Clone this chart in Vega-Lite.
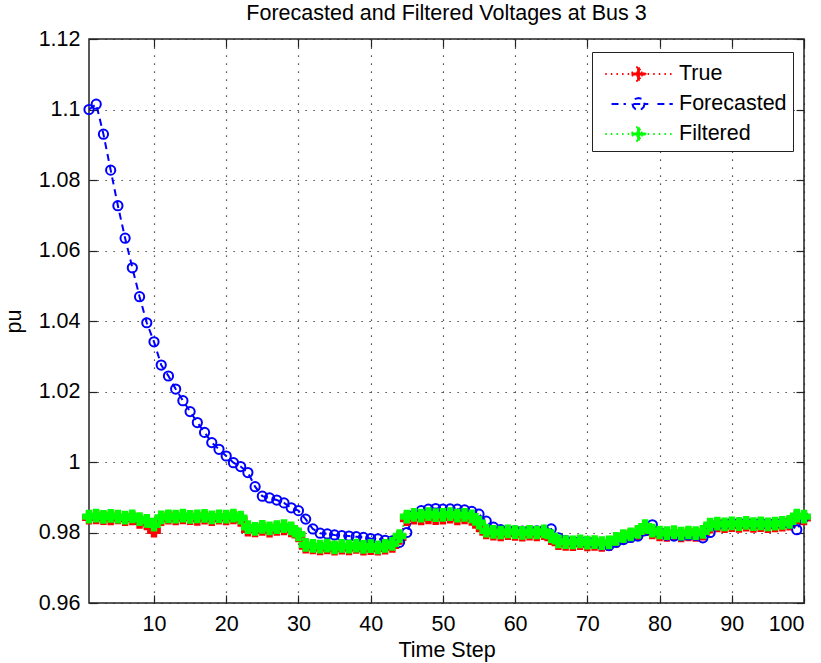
{
  "$schema": "https://vega.github.io/schema/vega-lite/v6.json",
  "width": 715,
  "height": 564,
  "autosize": {"type": "none"},
  "padding": {"left": 89, "top": 39, "right": 17, "bottom": 60},
  "background": "white",
  "title": {"text": "Forecasted and Filtered Voltages at Bus 3", "font": "Liberation Sans", "fontSize": 21.5, "fontWeight": "normal", "color": "black", "anchor": "middle", "offset": 4},
  "config": {
    "view": {"stroke": "#222", "strokeWidth": 1.5},
    "axis": {
      "domain": false, "tickColor": "#222", "tickSize": -8, "tickWidth": 1.2,
      "grid": true, "gridColor": "#222", "gridDash": [1.2, 6.8], "gridWidth": 1.2, "gridOpacity": 1,
      "labelFont": "Liberation Sans", "labelFontSize": 21.5, "labelColor": "black",
      "titleFont": "Liberation Sans", "titleFontSize": 21.5, "titleFontWeight": "normal", "titleColor": "black"
    }
  },
  "data": {"values": [
    {"t":1,"True":0.9842,"Forecasted":1.1000,"Filtered":0.9845},
    {"t":2,"True":0.9843,"Forecasted":1.1015,"Filtered":0.9848},
    {"t":3,"True":0.9841,"Forecasted":1.0930,"Filtered":0.9844},
    {"t":4,"True":0.9840,"Forecasted":1.0828,"Filtered":0.9847},
    {"t":5,"True":0.9843,"Forecasted":1.0727,"Filtered":0.9845},
    {"t":6,"True":0.9838,"Forecasted":1.0635,"Filtered":0.9842},
    {"t":7,"True":0.9840,"Forecasted":1.0551,"Filtered":0.9846},
    {"t":8,"True":0.9830,"Forecasted":1.0469,"Filtered":0.9838},
    {"t":9,"True":0.9826,"Forecasted":1.0395,"Filtered":0.9833},
    {"t":10,"True":0.9805,"Forecasted":1.0341,"Filtered":0.9822},
    {"t":11,"True":0.9838,"Forecasted":1.0275,"Filtered":0.9843},
    {"t":12,"True":0.9842,"Forecasted":1.0244,"Filtered":0.9846},
    {"t":13,"True":0.9840,"Forecasted":1.0207,"Filtered":0.9845},
    {"t":14,"True":0.9843,"Forecasted":1.0174,"Filtered":0.9848},
    {"t":15,"True":0.9841,"Forecasted":1.0143,"Filtered":0.9844},
    {"t":16,"True":0.9839,"Forecasted":1.0112,"Filtered":0.9846},
    {"t":17,"True":0.9842,"Forecasted":1.0084,"Filtered":0.9847},
    {"t":18,"True":0.9838,"Forecasted":1.0055,"Filtered":0.9843},
    {"t":19,"True":0.9842,"Forecasted":1.0036,"Filtered":0.9846},
    {"t":20,"True":0.9840,"Forecasted":1.0017,"Filtered":0.9845},
    {"t":21,"True":0.9843,"Forecasted":0.9998,"Filtered":0.9848},
    {"t":22,"True":0.9836,"Forecasted":0.9987,"Filtered":0.9842},
    {"t":23,"True":0.9808,"Forecasted":0.9970,"Filtered":0.9815},
    {"t":24,"True":0.9806,"Forecasted":0.9930,"Filtered":0.9810},
    {"t":25,"True":0.9810,"Forecasted":0.9903,"Filtered":0.9816},
    {"t":26,"True":0.9805,"Forecasted":0.9898,"Filtered":0.9812},
    {"t":27,"True":0.9810,"Forecasted":0.9892,"Filtered":0.9815},
    {"t":28,"True":0.9812,"Forecasted":0.9884,"Filtered":0.9818},
    {"t":29,"True":0.9806,"Forecasted":0.9870,"Filtered":0.9812},
    {"t":30,"True":0.9792,"Forecasted":0.9862,"Filtered":0.9795},
    {"t":31,"True":0.9760,"Forecasted":0.9838,"Filtered":0.9765},
    {"t":32,"True":0.9758,"Forecasted":0.9810,"Filtered":0.9762},
    {"t":33,"True":0.9755,"Forecasted":0.9798,"Filtered":0.9760},
    {"t":34,"True":0.9758,"Forecasted":0.9796,"Filtered":0.9763},
    {"t":35,"True":0.9754,"Forecasted":0.9793,"Filtered":0.9758},
    {"t":36,"True":0.9757,"Forecasted":0.9791,"Filtered":0.9762},
    {"t":37,"True":0.9755,"Forecasted":0.9790,"Filtered":0.9760},
    {"t":38,"True":0.9759,"Forecasted":0.9788,"Filtered":0.9763},
    {"t":39,"True":0.9754,"Forecasted":0.9786,"Filtered":0.9759},
    {"t":40,"True":0.9756,"Forecasted":0.9783,"Filtered":0.9761},
    {"t":41,"True":0.9754,"Forecasted":0.9782,"Filtered":0.9758},
    {"t":42,"True":0.9757,"Forecasted":0.9778,"Filtered":0.9762},
    {"t":43,"True":0.9762,"Forecasted":0.9776,"Filtered":0.9768},
    {"t":44,"True":0.9785,"Forecasted":0.9772,"Filtered":0.9790},
    {"t":45,"True":0.9838,"Forecasted":0.9800,"Filtered":0.9845},
    {"t":46,"True":0.9842,"Forecasted":0.9850,"Filtered":0.9850},
    {"t":47,"True":0.9840,"Forecasted":0.9862,"Filtered":0.9848},
    {"t":48,"True":0.9843,"Forecasted":0.9866,"Filtered":0.9852},
    {"t":49,"True":0.9841,"Forecasted":0.9868,"Filtered":0.9849},
    {"t":50,"True":0.9842,"Forecasted":0.9866,"Filtered":0.9850},
    {"t":51,"True":0.9845,"Forecasted":0.9867,"Filtered":0.9852},
    {"t":52,"True":0.9840,"Forecasted":0.9866,"Filtered":0.9848},
    {"t":53,"True":0.9843,"Forecasted":0.9864,"Filtered":0.9850},
    {"t":54,"True":0.9839,"Forecasted":0.9860,"Filtered":0.9846},
    {"t":55,"True":0.9820,"Forecasted":0.9852,"Filtered":0.9828},
    {"t":56,"True":0.9800,"Forecasted":0.9832,"Filtered":0.9805},
    {"t":57,"True":0.9797,"Forecasted":0.9815,"Filtered":0.9802},
    {"t":58,"True":0.9795,"Forecasted":0.9808,"Filtered":0.9800},
    {"t":59,"True":0.9798,"Forecasted":0.9806,"Filtered":0.9803},
    {"t":60,"True":0.9796,"Forecasted":0.9805,"Filtered":0.9801},
    {"t":61,"True":0.9794,"Forecasted":0.9804,"Filtered":0.9799},
    {"t":62,"True":0.9797,"Forecasted":0.9804,"Filtered":0.9802},
    {"t":63,"True":0.9795,"Forecasted":0.9805,"Filtered":0.9800},
    {"t":64,"True":0.9798,"Forecasted":0.9806,"Filtered":0.9803},
    {"t":65,"True":0.9784,"Forecasted":0.9810,"Filtered":0.9790},
    {"t":66,"True":0.9770,"Forecasted":0.9785,"Filtered":0.9775},
    {"t":67,"True":0.9768,"Forecasted":0.9777,"Filtered":0.9773},
    {"t":68,"True":0.9767,"Forecasted":0.9775,"Filtered":0.9772},
    {"t":69,"True":0.9770,"Forecasted":0.9774,"Filtered":0.9775},
    {"t":70,"True":0.9766,"Forecasted":0.9773,"Filtered":0.9771},
    {"t":71,"True":0.9768,"Forecasted":0.9770,"Filtered":0.9773},
    {"t":72,"True":0.9765,"Forecasted":0.9765,"Filtered":0.9770},
    {"t":73,"True":0.9767,"Forecasted":0.9763,"Filtered":0.9772},
    {"t":74,"True":0.9777,"Forecasted":0.9772,"Filtered":0.9782},
    {"t":75,"True":0.9786,"Forecasted":0.9780,"Filtered":0.9790},
    {"t":76,"True":0.9791,"Forecasted":0.9786,"Filtered":0.9795},
    {"t":77,"True":0.9798,"Forecasted":0.9790,"Filtered":0.9802},
    {"t":78,"True":0.9812,"Forecasted":0.9805,"Filtered":0.9818},
    {"t":79,"True":0.9800,"Forecasted":0.9822,"Filtered":0.9805},
    {"t":80,"True":0.9795,"Forecasted":0.9800,"Filtered":0.9800},
    {"t":81,"True":0.9793,"Forecasted":0.9792,"Filtered":0.9798},
    {"t":82,"True":0.9796,"Forecasted":0.9790,"Filtered":0.9801},
    {"t":83,"True":0.9792,"Forecasted":0.9791,"Filtered":0.9797},
    {"t":84,"True":0.9795,"Forecasted":0.9793,"Filtered":0.9800},
    {"t":85,"True":0.9793,"Forecasted":0.9792,"Filtered":0.9798},
    {"t":86,"True":0.9797,"Forecasted":0.9785,"Filtered":0.9802},
    {"t":87,"True":0.9817,"Forecasted":0.9800,"Filtered":0.9822},
    {"t":88,"True":0.9820,"Forecasted":0.9822,"Filtered":0.9825},
    {"t":89,"True":0.9818,"Forecasted":0.9824,"Filtered":0.9823},
    {"t":90,"True":0.9821,"Forecasted":0.9826,"Filtered":0.9826},
    {"t":91,"True":0.9819,"Forecasted":0.9827,"Filtered":0.9824},
    {"t":92,"True":0.9822,"Forecasted":0.9826,"Filtered":0.9827},
    {"t":93,"True":0.9819,"Forecasted":0.9825,"Filtered":0.9824},
    {"t":94,"True":0.9821,"Forecasted":0.9826,"Filtered":0.9826},
    {"t":95,"True":0.9818,"Forecasted":0.9824,"Filtered":0.9823},
    {"t":96,"True":0.9820,"Forecasted":0.9826,"Filtered":0.9825},
    {"t":97,"True":0.9822,"Forecasted":0.9827,"Filtered":0.9827},
    {"t":98,"True":0.9825,"Forecasted":0.9826,"Filtered":0.9830},
    {"t":99,"True":0.9843,"Forecasted":0.9808,"Filtered":0.9848},
    {"t":100,"True":0.9840,"Forecasted":0.9843,"Filtered":0.9845}
  ]},
  "transform": [{"fold": ["True", "Forecasted", "Filtered"], "as": ["series", "v"]}],
  "layer": [
    {
      "encoding": {
        "x": {"field": "t", "type": "quantitative", "scale": {"domain": [1, 100], "nice": false, "zero": false},
              "axis": {"orient": "bottom", "values": [10,20,30,40,50,60,70,80,90,100], "title": "Time Step", "labelPadding": 18, "titlePadding": 5}},
        "y": {"field": "v", "type": "quantitative", "scale": {"domain": [0.96, 1.12], "nice": false, "zero": false},
              "axis": {"orient": "left", "values": [0.96,0.98,1,1.02,1.04,1.06,1.08,1.1,1.12], "labelExpr": "format(datum.value, '.3~g')", "title": "pu", "labelPadding": 17, "titlePadding": 13}},
        "color": {"field": "series", "type": "nominal",
                  "scale": {"domain": ["True", "Forecasted", "Filtered"], "range": ["#ff0000", "#0000ff", "#00ff00"]},
                  "legend": {
                    "orient": "none", "legendX": 503, "legendY": 13, "title": null,
                    "symbolSize": 900, "labelFont": "Liberation Sans", "labelFontSize": 21.5, "labelColor": "black",
                    "labelOffset": 49, "labelLimit": 300, "strokeColor": "#222", "fillColor": "white",
                    "padding": 6, "rowPadding": 3, "symbolStrokeWidth": 2,
                    "encode": {"symbols": {"update": {
                      "shape": {"signal": "datum.value === 'Forecasted' ? 'M-0.163,0H0.793M1.283,0H2.287M2.893,0H3.92M2.033,0L1.98,0.2L1.833,0.346L1.633,0.4L1.433,0.346L1.287,0.2L1.233,0L1.287,-0.2L1.433,-0.346L1.633,-0.4L1.833,-0.346L1.98,-0.2Z' : 'M-0.583,0H-0.467M-0.21,0H-0.093M0.163,0H0.28M0.537,0H0.653M0.91,0H1.027M2.24,0H2.357M2.613,0H2.73M2.987,0H3.103M3.36,0H3.477M3.733,0H3.85M1.167,-0.093H1.54V-0.443H1.727V-0.093H2.1V0.093H1.727V0.443H1.54V0.093H1.167Z'"},
                      "fill": {"signal": "datum.value === 'Forecasted' ? 'transparent' : (datum.value === 'True' ? '#ff0000' : '#00ff00')"},
                      "stroke": {"signal": "datum.value === 'True' ? '#ff0000' : (datum.value === 'Forecasted' ? '#0000ff' : '#00ff00')"},
                      "strokeWidth": {"value": 2},
                      "strokeDash": {"value": []},
                      "opacity": {"value": 1},
                      "fillOpacity": {"signal": "datum.value === 'Forecasted' ? 0 : 1"},
                      "strokeOpacity": {"value": 1},
                      "size": {"value": 900}
                    }}}
                  }}
      },
      "layer": [
        {
          "mark": {"type": "line", "strokeWidth": 2},
          "encoding": {
            "strokeDash": {"field": "series", "type": "nominal", "legend": null,
                           "scale": {"domain": ["True", "Forecasted", "Filtered"], "range": [[1.5, 3.5], [7, 5], [1.5, 3.5]]}}
          }
        },
        {
          "transform": [{"filter": "datum.series === 'True'"}],
          "mark": {"type": "point", "shape": "cross", "filled": true, "size": 150, "stroke": "#ff0000", "strokeWidth": 1.5, "opacity": 1}
        },
        {
          "transform": [{"filter": "datum.series === 'Forecasted'"}],
          "mark": {"type": "point", "shape": "circle", "filled": false, "size": 85, "strokeWidth": 2, "opacity": 1}
        },
        {
          "transform": [{"filter": "datum.series === 'Filtered'"}],
          "mark": {"type": "point", "shape": "cross", "filled": true, "size": 150, "stroke": "#00ff00", "strokeWidth": 1.5, "opacity": 1}
        }
      ]
    },
    {
      "mark": {"type": "point", "opacity": 0},
      "encoding": {
        "x": {"field": "t", "type": "quantitative", "scale": {"domain": [1, 100], "nice": false, "zero": false},
              "axis": {"orient": "top", "values": [10,20,30,40,50,60,70,80,90,100], "labels": false, "title": null, "grid": false}},
        "y": {"field": "v", "type": "quantitative", "scale": {"domain": [0.96, 1.12], "nice": false, "zero": false},
              "axis": {"orient": "right", "values": [0.96,0.98,1,1.02,1.04,1.06,1.08,1.1,1.12], "labels": false, "title": null, "grid": false}}
      }
    }
  ],
  "resolve": {"axis": {"x": "independent", "y": "independent"}}
}
